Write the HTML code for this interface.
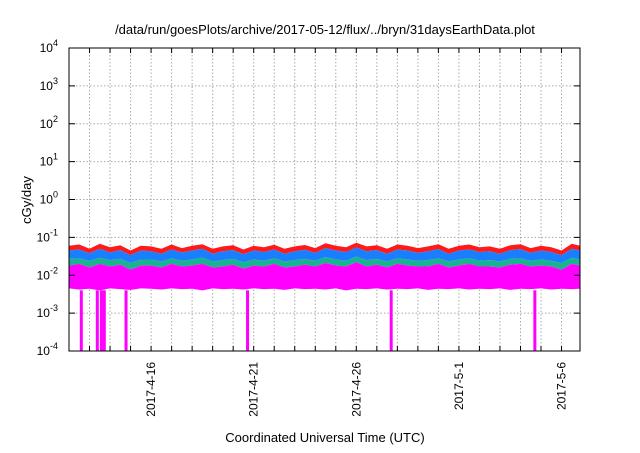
<!DOCTYPE html>
<html><head><meta charset="utf-8"><style>
body{margin:0;background:#fff;width:640px;height:448px;overflow:hidden}
svg text{font-family:"Liberation Sans",sans-serif;fill:#000}
</style></head><body>
<svg id="chart" width="640" height="448" xmlns="http://www.w3.org/2000/svg">
<text x="325" y="34" font-size="13" text-anchor="middle">/data/run/goesPlots/archive/2017-05-12/flux/../bryn/31daysEarthData.plot</text>
<text transform="translate(31,200) rotate(-90)" font-size="13" text-anchor="middle">cGy/day</text>
<text x="325" y="442" font-size="13" text-anchor="middle">Coordinated Universal Time (UTC)</text>
<g id="grid"></g><g id="series"></g><g id="axes"></g>
</svg>
<script>
const tickDecades=[-4,-3,-2,-1,0,1,2,3,4];
const dateLabels=["2017-4-16","2017-4-21","2017-4-26","2017-5-1","2017-5-6"];
const dateLabelDays=[4,9,14,19,24];
const sampleDays=[0,0.5,1,1.5,2,2.5,3,3.5,4,4.5,5,5.5,6,6.5,7,7.5,8,8.5,9,9.5,10,10.5,11,11.5,12,12.5,13,13.5,14,14.5,15,15.5,16,16.5,17,17.5,18,18.5,19,19.5,20,20.5,21,21.5,22,22.5,23,23.5,24,24.5,24.9];
const redTop=[0.06,0.065,0.05,0.068,0.055,0.062,0.045,0.06,0.058,0.05,0.065,0.052,0.06,0.066,0.05,0.058,0.062,0.048,0.06,0.055,0.064,0.05,0.058,0.063,0.052,0.07,0.06,0.055,0.072,0.058,0.062,0.05,0.065,0.06,0.052,0.058,0.066,0.05,0.06,0.065,0.055,0.058,0.05,0.062,0.066,0.052,0.06,0.055,0.045,0.068,0.06];
const blueTop=[0.045,0.048,0.038,0.05,0.04,0.046,0.034,0.045,0.043,0.037,0.048,0.04,0.045,0.05,0.037,0.043,0.046,0.036,0.045,0.041,0.048,0.037,0.043,0.047,0.039,0.052,0.045,0.041,0.054,0.043,0.046,0.037,0.048,0.045,0.039,0.043,0.049,0.037,0.045,0.048,0.041,0.043,0.037,0.046,0.049,0.039,0.045,0.041,0.034,0.05,0.045];
const greenTop=[0.027,0.028,0.024,0.029,0.025,0.027,0.021,0.026,0.026,0.023,0.028,0.024,0.026,0.029,0.023,0.025,0.027,0.022,0.026,0.024,0.028,0.023,0.025,0.027,0.024,0.03,0.026,0.024,0.031,0.025,0.027,0.023,0.028,0.026,0.024,0.025,0.028,0.023,0.026,0.028,0.024,0.025,0.023,0.027,0.028,0.024,0.026,0.024,0.021,0.029,0.026];
const magentaTop=[0.018,0.02,0.016,0.02,0.017,0.019,0.014,0.018,0.018,0.016,0.02,0.017,0.018,0.02,0.016,0.017,0.019,0.015,0.018,0.017,0.02,0.016,0.017,0.019,0.017,0.021,0.018,0.017,0.022,0.017,0.019,0.016,0.02,0.018,0.017,0.017,0.02,0.016,0.018,0.02,0.017,0.017,0.016,0.019,0.02,0.017,0.018,0.017,0.014,0.02,0.018];
const magentaBottom=[0.0045,0.0042,0.0044,0.004,0.0045,0.0043,0.0041,0.0045,0.0044,0.0042,0.0045,0.0043,0.0044,0.004,0.0045,0.0043,0.0044,0.0042,0.0045,0.0043,0.0044,0.0041,0.0045,0.0043,0.0044,0.0042,0.0045,0.004,0.0044,0.0043,0.0045,0.0042,0.0044,0.0043,0.0045,0.0041,0.0044,0.0043,0.0045,0.0042,0.0044,0.0043,0.0045,0.0041,0.0044,0.0043,0.0045,0.0042,0.0044,0.0043,0.0044];
const dropDays=[0.6,1.38,1.58,1.72,2.78,8.7,15.7,22.7];
const L=69,R=580,T=48,B=351,D0=0,D1=24.9;
const xs=d=>L+(d-D0)/(D1-D0)*(R-L);
const ys=v=>B-(Math.log10(v)+4)/8*(B-T);
const NS="http://www.w3.org/2000/svg";
function mk(tag,attrs,parent){const e=document.createElementNS(NS,tag);for(const k in attrs)e.setAttribute(k,attrs[k]);parent.appendChild(e);return e;}
const grid=document.getElementById('grid'),ser=document.getElementById('series'),ax=document.getElementById('axes');
for(let d=1;d<25;d++){const g=mk('line',{x1:xs(d),x2:xs(d),y1:T,y2:B,stroke:'#aaa','stroke-dasharray':'1.5,2','stroke-width':1},grid);

}
tickDecades.forEach(p=>{const y=ys(Math.pow(10,p));
if(p>-4&&p<4){const g=mk('line',{x1:L,x2:R,y1:y,y2:y,stroke:'#aaa','stroke-dasharray':'1.5,2'},grid);

}
const t=mk('text',{x:58,y:y+4,'font-size':12,'text-anchor':'end'},ax);


t.innerHTML='10<tspan dy="-6" font-size="9">'+p+'</tspan>';
mk('line',{x1:L,x2:L+6,y1:y,y2:y,stroke:'#000'},ax);mk('line',{x1:R,x2:R-6,y1:y,y2:y,stroke:'#000'},ax);
});
function band(top,bot,color,name){let p='';sampleDays.forEach((d,i)=>{p+=(i?'L':'M')+xs(d)+','+ys(top[i]);});
for(let i=sampleDays.length-1;i>=0;i--)p+='L'+xs(sampleDays[i])+','+ys(bot[i]);
const e=mk('path',{d:p+'Z',fill:color},ser);

}
band(redTop,blueTop,'#ff1a1a','series-red');
band(blueTop,greenTop,'#1a7fff','series-blue');
band(greenTop,magentaTop,'#1ab38f','series-green');
band(magentaTop,magentaBottom,'#ff00ff','series-magenta');
dropDays.forEach(d=>{const e=mk('rect',{x:xs(d)-1.5,y:ys(0.004),width:3,height:B-ys(0.004),fill:'#ff00ff'},ser);

});
for(let d=1;d<25;d++){mk('line',{x1:xs(d),x2:xs(d),y1:B,y2:B-5,stroke:'#000'},ax);mk('line',{x1:xs(d),x2:xs(d),y1:T,y2:T+5,stroke:'#000'},ax);}
dateLabels.forEach((s,i)=>{const x=xs(dateLabelDays[i]);const t=mk('text',{transform:`translate(${x+4},362) rotate(-90)`,'font-size':12,'text-anchor':'end'},ax);


t.textContent=s;});
const f=mk('rect',{x:L,y:T,width:R-L,height:B-T,fill:'none',stroke:'#000','stroke-width':1},ax);


</script>
</body></html>
